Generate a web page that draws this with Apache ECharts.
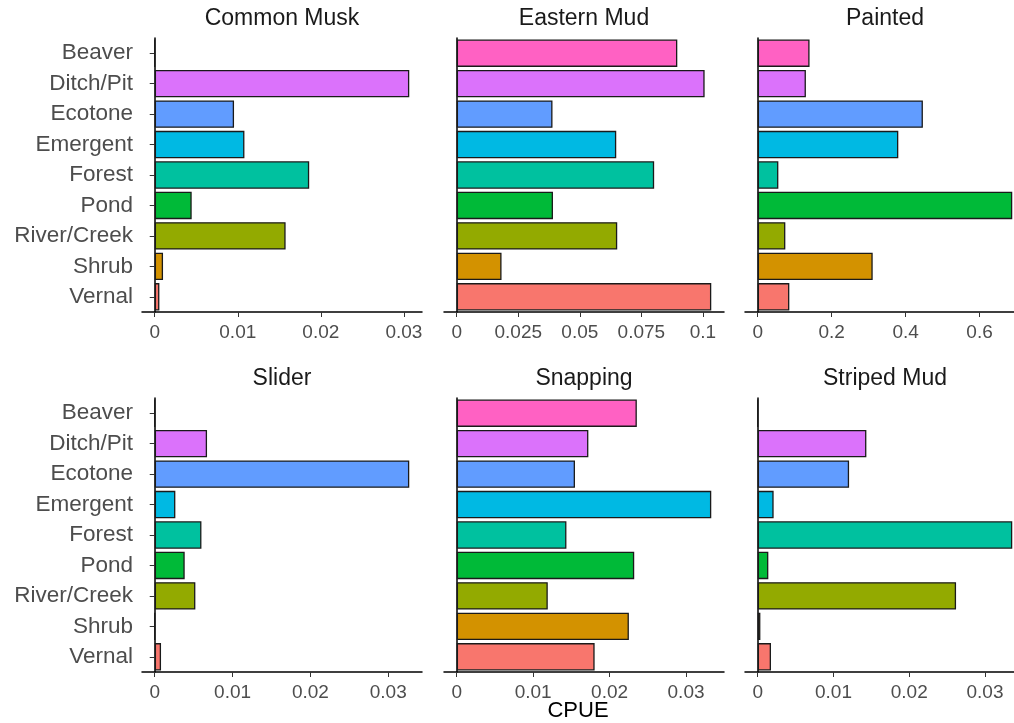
<!DOCTYPE html>
<html>
<head>
<meta charset="utf-8">
<script src="https://cdn.jsdelivr.net/npm/echarts@6/dist/echarts.min.js"></script>
<style>
html,body{margin:0;padding:0;background:#fff;overflow:hidden;width:1014px;height:723px;}
#chart{width:1040px;height:723px;}
</style>
</head>
<body>
<div id="chart"></div>
<script>
// ---- data ----
const categories = ['Beaver','Ditch/Pit','Ecotone','Emergent','Forest','Pond','River/Creek','Shrub','Vernal'];
const barColors = ['#FF61C3','#DB72FB','#619CFF','#00B9E3','#00C19F','#00BA38','#93AA00','#D39200','#F8766D'];
const species = ['Common Musk','Eastern Mud','Painted','Slider','Snapping','Striped Mud'];
const commonMusk = [0, 0.03065, 0.00955, 0.0108, 0.0186, 0.00445, 0.01576, 0.001, 0.00056];
const easternMud = [0.0896, 0.1007, 0.0389, 0.0648, 0.0802, 0.0391, 0.0652, 0.0182, 0.1034];
const painted = [0.1402, 0.1303, 0.4468, 0.3803, 0.0558, 0.6886, 0.0747, 0.311, 0.0855];
const slider = [0, 0.00672, 0.0327, 0.00265, 0.006, 0.00385, 0.00522, 0, 0.00081];
const snapping = [0.02356, 0.01722, 0.01547, 0.0333, 0.01435, 0.02322, 0.01191, 0.02252, 0.01804];
const stripedMud = [0, 0.01434, 0.01206, 0.0021, 0.0336, 0.0014, 0.02618, 0.00035, 0.00175];
const ticksCommonMusk = [0, 0.01, 0.02, 0.03];
const ticksEasternMud = [0, 0.025, 0.05, 0.075, 0.1];
const ticksPainted = [0, 0.2, 0.4, 0.6];
const ticksSlider = [0, 0.01, 0.02, 0.03];
const ticksSnapping = [0, 0.01, 0.02, 0.03];
const ticksStripedMud = [0, 0.01, 0.02, 0.03];
const xTitle = 'CPUE';

const panelValues = [commonMusk, easternMud, painted, slider, snapping, stripedMud];
const panelTicks = [ticksCommonMusk, ticksEasternMud, ticksPainted, ticksSlider, ticksSnapping, ticksStripedMud];

// ---- layout ----
const FONT = 'Liberation Sans, Arial, sans-serif';
const colLefts = [142, 444, 745];
const rowTops = [38, 398];
const panelW = 280, panelH = 274;

const grids = [], xAxes = [], yAxes = [], series = [], graphics = [];
panelValues.forEach((vals, i) => {
  const col = i % 3, row = Math.floor(i / 3);
  const left = colLefts[col], top = rowTops[row];
  grids.push({left: left, top: top, width: panelW, height: panelH, containLabel: false});
  const vmax = Math.max.apply(null, vals);
  xAxes.push({
    type: 'value', gridIndex: i,
    min: -0.05 * vmax, max: 1.05 * vmax,
    axisLine: {show: true, onZero: false, lineStyle: {color: '#000', width: 1.5}},
    axisTick: {show: true, customValues: panelTicks[i], length: 5, lineStyle: {color: '#333', width: 1}},
    axisLabel: {show: true, customValues: panelTicks[i], color: '#4d4d4d', fontSize: 19, fontFamily: FONT, margin: 11},
    splitLine: {show: false}
  });
  yAxes.push({
    type: 'category', gridIndex: i, data: categories, inverse: true,
    axisLine: {show: true, lineStyle: {color: '#000', width: 1.5}},
    axisTick: {show: col === 0, alignWithLabel: true, length: 5, lineStyle: {color: '#333', width: 1}},
    axisLabel: {show: col === 0, color: '#4d4d4d', fontSize: 22.5, fontFamily: FONT, margin: 9},
    splitLine: {show: false}
  });
  series.push({
    type: 'bar', xAxisIndex: i, yAxisIndex: i,
    barCategoryGap: '10%',
    data: vals.map((v, k) => ({value: v, itemStyle: {color: barColors[k]}})),
    itemStyle: {borderColor: '#1a1a1a', borderWidth: 1.3},
    silent: true
  });
  graphics.push({
    type: 'text', x: left + panelW / 2, y: top - 19,
    style: {text: species[i], align: 'center', verticalAlign: 'middle', fontSize: 23, fontFamily: FONT, fill: '#1a1a1a'}
  });
});
graphics.push({
  type: 'text', x: 578, y: 711,
  style: {text: xTitle, align: 'center', verticalAlign: 'middle', fontSize: 22, fontFamily: FONT, fill: '#000'}
});

const chart = echarts.init(document.getElementById('chart'), null, {renderer: 'canvas'});
chart.setOption({
  animation: false,
  backgroundColor: '#fff',
  grid: grids, xAxis: xAxes, yAxis: yAxes, series: series,
  graphic: graphics
});
</script>
</body>
</html>
